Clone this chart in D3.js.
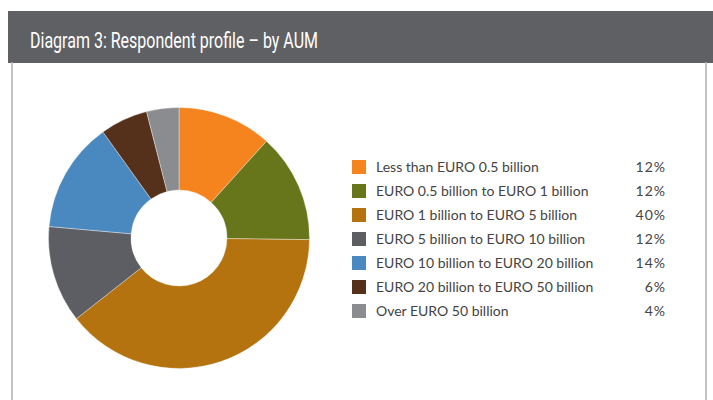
<!DOCTYPE html>
<html><head><meta charset="utf-8">
<script src="https://cdn.jsdelivr.net/npm/d3@7"></script>
<style>
html,body{margin:0;padding:0;background:#fff;}
svg{display:block;}
</style></head>
<body>
<svg id="chart" width="713" height="400"></svg>
<script>
const title = "Diagram 3: Respondent profile \u2013 by AUM";
const categories = [
  "Less than EURO 0.5 billion",
  "EURO 0.5 billion to EURO 1 billion",
  "EURO 1 billion to EURO 5 billion",
  "EURO 5 billion to EURO 10 billion",
  "EURO 10 billion to EURO 20 billion",
  "EURO 20 billion to EURO 50 billion",
  "Over EURO 50 billion"
];
// slice sizes as drawn in the picture
const sliceValues = [11.7, 13.5, 39.2, 12.0, 13.7, 5.9, 4.0];
// percentages as printed in the legend
const legendLabels = ["12%", "12%", "40%", "12%", "14%", "6%", "4%"];
const colors = ["#F5841F", "#67761A", "#B4730E", "#5D5E63", "#4A89C0", "#55301A", "#8B8C90"];

const svg = d3.select("#chart");

// frame
svg.append("rect").attr("x", 8).attr("y", 11).attr("width", 705).attr("height", 52).attr("fill", "#5F6064");
svg.append("line").attr("x1", 12).attr("x2", 12).attr("y1", 62).attr("y2", 400).attr("stroke", "#B1B1B6").attr("stroke-width", 1.5);
svg.append("line").attr("x1", 706).attr("x2", 706).attr("y1", 62).attr("y2", 400).attr("stroke", "#B1B1B6").attr("stroke-width", 1.5);

svg.append("text").attr("x", 30).attr("y", 47.5)
  .attr("fill", "#fff")
  .attr("textLength", 288).attr("lengthAdjust", "spacingAndGlyphs")
  .style("font-family", "Roboto, 'Open Sans', sans-serif")
  .style("font-size", "22.5px")
  .text(title);

// donut
const cx = 179, cy = 238, rOuter = 130.5, rInner = 48;
const pie = d3.pie().sort(null).value(d => d);
const arc = d3.arc().innerRadius(rInner).outerRadius(rOuter);
const g = svg.append("g").attr("transform", `translate(${cx},${cy})`);
g.selectAll("path").data(pie(sliceValues)).join("path")
  .attr("d", arc)
  .attr("fill", (d, i) => colors[i])
  .attr("stroke", "#fff").attr("stroke-width", 0.6).attr("stroke-opacity", 0.6);

// legend
const y = d3.scalePoint().domain(d3.range(categories.length)).range([167, 311]);
const lg = svg.append("g").style("font-family", "Lato, 'Open Sans', sans-serif").style("font-size", "14px");
const rows = lg.selectAll("g").data(categories).join("g")
  .attr("transform", (d, i) => `translate(0,${y(i)})`);
rows.append("rect").attr("x", 352).attr("y", -7).attr("width", 14).attr("height", 14)
  .attr("fill", (d, i) => colors[i]);
rows.append("text").attr("x", 376).attr("dy", "0.35em").attr("fill", "#444").text(d => d);
rows.append("text").attr("x", 666).attr("dy", "0.35em").attr("text-anchor", "end")
  .attr("fill", "#444").style("letter-spacing", "1px").text((d, i) => legendLabels[i]);
</script>
</body></html>
